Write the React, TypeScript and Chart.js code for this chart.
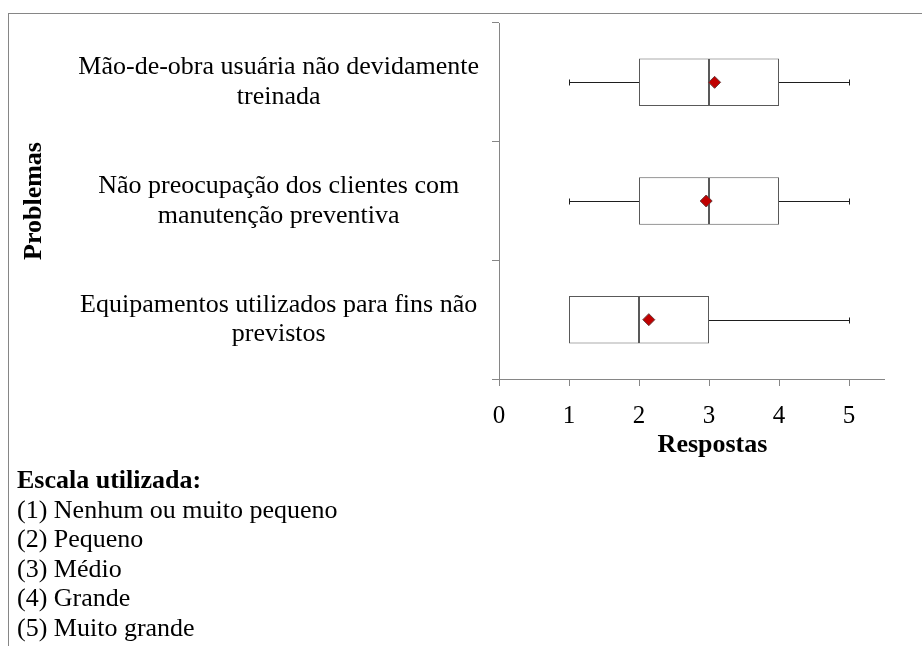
import React, { useEffect, useRef } from 'react';
import { Chart, registerables } from 'chart.js';

Chart.register(...registerables);

// ---- Data ----
const categories: string[][] = [
  ['Mão-de-obra usuária não devidamente', 'treinada'],
  ['Não preocupação dos clientes com', 'manutenção preventiva'],
  ['Equipamentos utilizados para fins não', 'previstos'],
];
const minValues = [1, 1, 1];
const q1Values = [2, 2, 1];
const medianValues = [3, 3, 2];
const q3Values = [4, 4, 3];
const maxValues = [5, 5, 5];
const meanValues = [3.08, 2.96, 2.14];
const xMin = 0;
const xMax = 5.5;
const xStep = 1;
const xAxisTitle = 'Respostas';
const yAxisTitle = 'Problemas';
const scaleHeading = 'Escala utilizada:';
const scaleItems = [
  '(1) Nenhum ou muito pequeno',
  '(2) Pequeno',
  '(3) Médio',
  '(4) Grande',
  '(5) Muito grande',
];

const FONT = '"Liberation Serif", "Times New Roman", Times, serif';
const AXIS_COLOR = '#868686';

const whiskerPlugin = {
  id: 'whiskers',
  beforeDatasetsDraw(chart: any, _args: any, opts: any) {
    const { ctx } = chart;
    const xs = chart.scales.x;
    const ys = chart.scales.y;
    ctx.save();
    ctx.strokeStyle = opts.color;
    ctx.lineWidth = 1;
    categories.forEach((_, i) => {
      const cy = Math.round(ys.getPixelForValue(i)) + 0.5;
      const segs: [number, number, boolean][] = [
        [minValues[i], q1Values[i], true],
        [q3Values[i], maxValues[i], false],
      ];
      segs.forEach(([a, b, isLow]) => {
        if (a === b) return;
        const xa = xs.getPixelForValue(a);
        const xb = xs.getPixelForValue(b);
        ctx.beginPath();
        ctx.moveTo(xa, cy);
        ctx.lineTo(xb, cy);
        ctx.stroke();
        const capX = Math.round(isLow ? xa : xb) + 0.5;
        ctx.beginPath();
        ctx.moveTo(capX, cy - opts.cap);
        ctx.lineTo(capX, cy + opts.cap);
        ctx.stroke();
      });
    });
    ctx.restore();
  },
};

const xTitlePlugin = {
  id: 'xTitleShift',
  afterDraw(chart: any, _args: any, opts: any) {
    const { ctx } = chart;
    const xs = chart.scales.x;
    ctx.save();
    ctx.font = opts.font;
    ctx.fillStyle = opts.color;
    ctx.textAlign = 'center';
    ctx.textBaseline = 'middle';
    ctx.fillText(opts.text, (xs.left + xs.right) / 2 + opts.offsetX, xs.top + opts.offsetY);
    ctx.restore();
  },
};

export default function App() {
  const canvasRef = useRef<HTMLCanvasElement | null>(null);

  useEffect(() => {
    if (!canvasRef.current) return;
    const boxStyle = {
      backgroundColor: '#ffffff',
      borderColor: '#595959',
      borderWidth: 1,
      borderSkipped: false as const,
      barPercentage: 0.4,
      categoryPercentage: 1,
      grouped: false,
      order: 2,
    };
    const chart = new Chart(canvasRef.current, {
      type: 'bar',
      data: {
        labels: categories as any,
        datasets: [
          {
            type: 'line',
            label: 'Média',
            data: meanValues,
            showLine: false,
            pointStyle: 'rectRot',
            pointRadius: 6,
            pointHoverRadius: 6,
            pointBackgroundColor: '#C00000',
            pointBorderColor: '#6a3a3a',
            pointBorderWidth: 1,
            order: 0,
          } as any,
          {
            label: 'Q1-Mediana',
            data: q1Values.map((v, i) => [v, medianValues[i]]) as any,
            ...boxStyle,
          } as any,
          {
            label: 'Mediana-Q3',
            data: medianValues.map((v, i) => [v, q3Values[i]]) as any,
            ...boxStyle,
          } as any,
        ],
      },
      options: {
        animation: false,
        responsive: false,
        indexAxis: 'y',
        layout: { padding: { top: 9, right: 38, left: 0, bottom: 0 } },
        plugins: {
          legend: { display: false },
          tooltip: { enabled: false },
          whiskers: { color: '#1e1e1e', cap: 3 },
          xTitleShift: {
            text: xAxisTitle,
            font: `bold 26px ${FONT}`,
            color: '#000000',
            offsetX: 21,
            offsetY: 66,
          },
        } as any,
        scales: {
          x: {
            type: 'linear',
            position: 'bottom',
            min: xMin,
            max: xMax,
            ticks: {
              stepSize: xStep,
              includeBounds: false,
              color: '#000000',
              padding: 15,
              font: { family: FONT, size: 25 },
            },
            grid: {
              drawOnChartArea: false,
              drawTicks: true,
              tickLength: 7,
              color: AXIS_COLOR,
              tickColor: AXIS_COLOR,
            },
            border: { display: true, color: AXIS_COLOR, width: 1 },
            afterFit: (scale: any) => {
              scale.height = 95;
              scale.paddingLeft = 0;
              scale.paddingRight = 0;
            },
          },
          y: {
            type: 'category',
            position: 'left',
            offset: true,
            ticks: {
              color: '#000000',
              padding: 13,
              crossAlign: 'center',
              autoSkip: false,
              font: { family: FONT, size: 26, lineHeight: 1.15 },
            },
            grid: {
              offset: true,
              drawOnChartArea: false,
              drawTicks: true,
              tickLength: 7,
              color: AXIS_COLOR,
              tickColor: AXIS_COLOR,
            },
            border: { display: true, color: AXIS_COLOR, width: 1 },
            title: {
              display: true,
              text: yAxisTitle,
              color: '#000000',
              font: { family: FONT, size: 26, weight: 'bold' },
              padding: { top: 10, bottom: 0 },
            },
            afterFit: (scale: any) => {
              scale.width = 490;
              scale.paddingTop = 0;
              scale.paddingBottom = 0;
            },
          },
        },
      } as any,
      plugins: [whiskerPlugin, xTitlePlugin],
    });
    return () => chart.destroy();
  }, []);

  return (
    <div
      style={{
        position: 'fixed',
        left: 0,
        top: 0,
        width: 922,
        height: 646,
        overflow: 'hidden',
        background: '#ffffff',
        fontFamily: FONT,
        color: '#000000',
      }}
    >
      <div
        style={{
          position: 'absolute',
          left: 8,
          top: 13,
          width: 1000,
          height: 1000,
          borderTop: `1px solid ${AXIS_COLOR}`,
          borderLeft: `1px solid ${AXIS_COLOR}`,
        }}
      />
      <canvas
        ref={canvasRef}
        width={913}
        height={460}
        style={{ position: 'absolute', left: 9, top: 14 }}
      />
      <div
        style={{
          position: 'absolute',
          left: 17,
          top: 465,
          fontSize: 26,
          lineHeight: '29.6px',
          whiteSpace: 'nowrap',
        }}
      >
        <div style={{ fontWeight: 'bold' }}>{scaleHeading}</div>
        {scaleItems.map((t) => (
          <div key={t}>{t}</div>
        ))}
      </div>
    </div>
  );
}
